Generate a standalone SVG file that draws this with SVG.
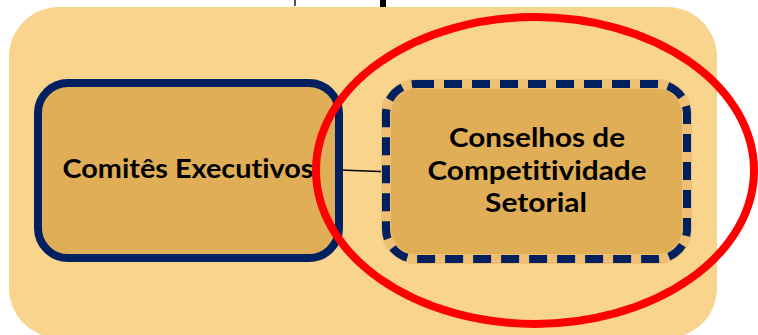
<svg xmlns="http://www.w3.org/2000/svg" width="758" height="335" viewBox="0 0 758 335">
  <style>
    .lbl { font-family: Lato, "Open Sans", "Liberation Sans", sans-serif; font-weight: bold; font-size: 26px; fill: #000000; text-anchor: middle; font-variant-ligatures: none; }
    .node { fill: #E0AE56; stroke: #002060; stroke-width: 8; }
  </style>
  <rect x="0" y="0" width="758" height="335" fill="#ffffff"/>
  <rect x="294" y="0" width="2" height="6" fill="#555555"/>
  <rect x="380" y="0" width="6" height="7" fill="#000000"/>
  <rect id="panel" x="9" y="7" width="708" height="331" rx="50" ry="50" fill="#F9D48D"/>
  <g id="connectors">
    <line x1="340" y1="170" x2="386" y2="171.7" stroke="#000000" stroke-width="1.5"/>
  </g>
  <g id="comites">
    <rect class="node" x="38" y="83" width="301" height="175" rx="30" ry="30"/>
    <text class="lbl" x="188" y="178" textLength="251" lengthAdjust="spacingAndGlyphs">Comitês Executivos</text>
  </g>
  <g id="conselhos">
    <rect x="386" y="84" width="301" height="175" rx="30" ry="30" fill="#E0AE56" stroke="#EDC073" stroke-width="10"/>
    <rect x="386" y="84" width="301" height="175" rx="30" ry="30" fill="none" stroke="#002060" stroke-width="8" stroke-dasharray="18 10"/>
    <text class="lbl" x="537" y="147" textLength="176" lengthAdjust="spacingAndGlyphs">Conselhos de</text>
    <text class="lbl" x="537" y="180" textLength="219" lengthAdjust="spacingAndGlyphs">Competitividade</text>
    <text class="lbl" x="536" y="212" textLength="102" lengthAdjust="spacingAndGlyphs">Setorial</text>
  </g>
  <g id="highlight">
    <ellipse cx="535" cy="170.5" rx="219" ry="153.5" fill="none" stroke="#FF0000" stroke-width="8"/>
  </g>
</svg>
